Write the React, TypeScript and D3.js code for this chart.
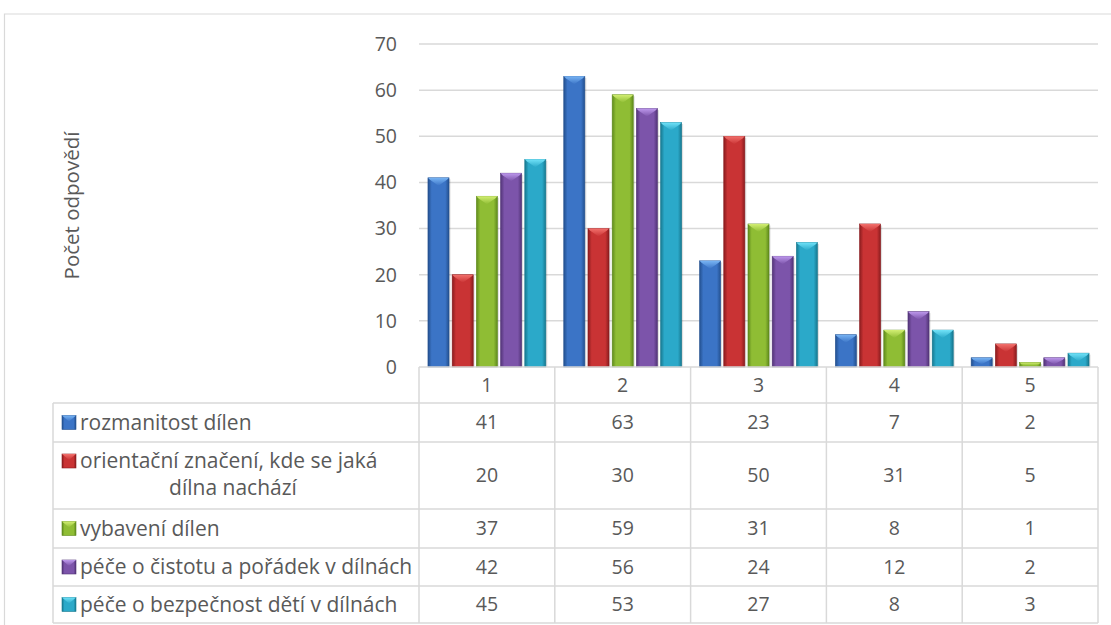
import React from "react";
import * as d3 from "d3";

const categories = ["1", "2", "3", "4", "5"];
const seriesNames = [
  "rozmanitost dílen",
  "orientační značení, kde se jaká dílna nachází",
  "vybavení dílen",
  "péče o čistotu a pořádek v dílnách",
  "péče o bezpečnost dětí v dílnách",
];
const rozmanitost = [41, 63, 23, 7, 2];
const orientacni = [20, 30, 50, 31, 5];
const vybaveni = [37, 59, 31, 8, 1];
const cistota = [42, 56, 24, 12, 2];
const bezpecnost = [45, 53, 27, 8, 3];
const seriesValues = [rozmanitost, orientacni, vybaveni, cistota, bezpecnost];
const yTicks = [0, 10, 20, 30, 40, 50, 60, 70];
const axisTitle = "Počet odpovědí";

// base, dark edge, light bevel
const palette = [
  { base: "#3b74c6", dark: "#23508f", light: "#78b4f4" },
  { base: "#c93334", dark: "#8a1c1e", light: "#f2706c" },
  { base: "#8fbd34", dark: "#5f8a1c", light: "#d2ee72" },
  { base: "#7c54aa", dark: "#523477", light: "#bd98ec" },
  { base: "#2ba9c9", dark: "#17788f", light: "#70e2f8" },
];

const W = 1111;
const H = 625;
const plotLeft = 419;
const plotRight = 1098;
const plotTop = 44;
const plotBottom = 367;
const tableLeft = 53;
// row boundaries below the category header
const rowEdges = [403, 442, 509, 548, 586, 623];
const FONT = "'Open Sans', sans-serif";
const grid = "#d9d9d9";
const textColor = "#595959";
const NUM = 19.5;
const LBL = 21;

export default function App() {
  const x0 = d3.scaleBand<string>().domain(categories).range([plotLeft, plotRight]);
  const cw = x0.bandwidth();
  const x1 = d3
    .scaleBand<number>()
    .domain(d3.range(seriesNames.length))
    .range([cw * 0.066, cw * 0.934])
    .paddingInner(0.13);
  const y = d3.scaleLinear().domain([0, 70]).range([plotBottom, plotTop]);
  const bw = x1.bandwidth();

  const bar = (v: number, ci: number, si: number) => {
    const xl = (x0(categories[ci]) as number) + (x1(si) as number);
    const yt = y(v);
    const h = plotBottom - yt;
    const depth = Math.min(8, h * 0.7);
    const xr = xl + bw;
    const xc = xl + bw / 2;
    return (
      <g key={`${ci}-${si}`}>
        <rect x={xl + 1.5} y={yt + 1.5} width={bw} height={h - 1.5} fill="rgba(0,0,0,0.12)" />
        <rect x={xl} y={yt} width={bw} height={h} fill={`url(#g${si})`} stroke={palette[si].dark} strokeWidth={0.6} />
        <polygon points={`${xl},${yt} ${xr},${yt} ${xr - 2},${yt + 2} ${xc},${yt + depth} ${xl + 2},${yt + 2}`} fill={`url(#t${si})`} />
      </g>
    );
  };

  const colX = (i: number) => (x0(categories[i]) as number) + cw / 2;
  const rowMid = (r: number) => (rowEdges[r] + rowEdges[r + 1]) / 2;

  const key = (si: number, kx: number, cy: number) => (
    <g key={`k${si}`}>
      <rect x={kx} y={cy - 7} width={14} height={14} fill={`url(#g${si})`} stroke={palette[si].dark} strokeWidth={0.6} />
      <polygon points={`${kx},${cy - 7} ${kx + 14},${cy - 7} ${kx + 7},${cy - 1}`} fill={`url(#t${si})`} />
    </g>
  );

  return (
    <svg width={W} height={H} style={{ position: "absolute", left: 0, top: 0, background: "#fff" }} fontFamily={FONT}>
      <defs>
        {palette.map((p, i) => (
          <linearGradient key={`g${i}`} id={`g${i}`} x1="0" x2="1" y1="0" y2="0">
            <stop offset="0" stopColor={p.dark} />
            <stop offset="0.18" stopColor={p.base} />
            <stop offset="0.5" stopColor={p.base} />
            <stop offset="0.82" stopColor={p.base} />
            <stop offset="1" stopColor={p.dark} />
          </linearGradient>
        ))}
        {palette.map((p, i) => (
          <linearGradient key={`t${i}`} id={`t${i}`} x1="0" x2="0" y1="0" y2="1">
            <stop offset="0" stopColor={p.light} />
            <stop offset="1" stopColor={p.base} />
          </linearGradient>
        ))}
      </defs>

      {/* chart frame */}
      <path d={`M${W},14 H4.5 V${H}`} fill="none" stroke={grid} strokeWidth={1.2} />

      {/* gridlines and value axis */}
      {yTicks.map((t) => (
        <g key={t}>
          {t > 0 && <line x1={plotLeft} x2={plotRight} y1={y(t)} y2={y(t)} stroke={grid} strokeWidth={1.5} />}
          <text x={397} y={y(t)} dy="0.35em" textAnchor="end" fontSize={NUM} fill={textColor}>
            {t}
          </text>
        </g>
      ))}
      <text
        transform={`translate(79,${(plotTop + plotBottom) / 2}) rotate(-90)`}
        textAnchor="middle"
        fontSize={20.5}
        fill={textColor}
      >
        {axisTitle}
      </text>

      {/* bars */}
      {seriesValues.map((vals, si) => vals.map((v, ci) => bar(v, ci, si)))}

      {/* data table */}
      <g stroke={grid} strokeWidth={1.5} fill="none">
        <line x1={plotLeft} x2={plotRight} y1={plotBottom} y2={plotBottom} />
        {rowEdges.map((ry) => (
          <line key={ry} x1={tableLeft} x2={plotRight} y1={ry} y2={ry} />
        ))}
        <line x1={tableLeft} x2={tableLeft} y1={rowEdges[0]} y2={rowEdges[rowEdges.length - 1]} />
        {categories.map((c) => (
          <line key={c} x1={x0(c)} x2={x0(c)} y1={plotBottom} y2={rowEdges[rowEdges.length - 1]} />
        ))}
        <line x1={plotRight} x2={plotRight} y1={plotBottom} y2={rowEdges[rowEdges.length - 1]} />
      </g>

      {categories.map((c, i) => (
        <text key={c} x={colX(i)} y={(plotBottom + rowEdges[0]) / 2} dy="0.35em" textAnchor="middle" fontSize={NUM} fill={textColor}>
          {c}
        </text>
      ))}

      {seriesValues.map((vals, si) => (
        <g key={`row${si}`}>
          {vals.map((v, ci) => (
            <text key={ci} x={colX(ci)} y={rowMid(si)} dy="0.35em" textAnchor="middle" fontSize={NUM} fill={textColor}>
              {v}
            </text>
          ))}
        </g>
      ))}

      {seriesNames.map((name, si) => {
        if (si === 1) {
          return (
            <g key={`l${si}`}>
              {key(si, 62, 461)}
              <text x={80} y={461} dy="0.35em" fontSize={LBL} fill={textColor}>
                orientační značení, kde se jaká
              </text>
              <text x={233} y={488} dy="0.35em" textAnchor="middle" fontSize={LBL} fill={textColor}>
                dílna nachází
              </text>
            </g>
          );
        }
        const cy = rowMid(si);
        return (
          <g key={`l${si}`}>
            {key(si, 62, cy)}
            <text x={80} y={cy} dy="0.35em" fontSize={LBL} fill={textColor}>
              {name}
            </text>
          </g>
        );
      })}
    </svg>
  );
}
